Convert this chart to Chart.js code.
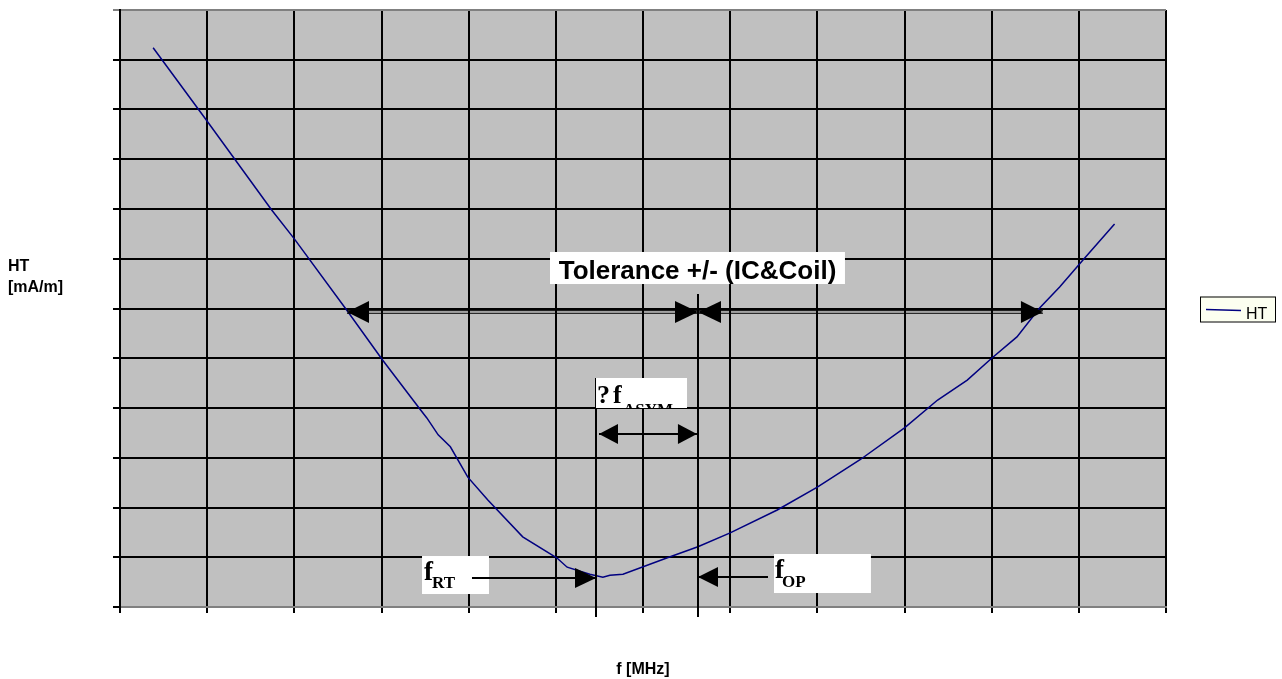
<!DOCTYPE html>
<html lang="en">
<head>
    <meta charset="UTF-8">
    <title>HT vs f</title>
    <script src="https://cdn.jsdelivr.net/npm/chart.js"></script>
    <style>
        body {
            margin: 0;
            padding: 0;
            background: #fff;
        }
        #grafica {
            display: block;
        }
    </style>
</head>
<body>
    <canvas id="grafica" width="1282" height="679"></canvas>
    <script>
        // frequency in grid divisions (no tick labels on the original)
        const freq = [0.38, 0.99, 1.74, 2.0, 2.6, 3.01, 3.44, 3.52, 3.65, 3.79, 3.99, 4.22, 4.62,
                      5.01, 5.13, 5.39, 5.54, 5.62, 5.77, 6.28, 6.63, 7.0, 7.54, 8.0, 8.49,
                      9.0, 9.38, 9.72, 10.0, 10.29, 10.55, 10.78, 11.05, 11.41];
        const ht = [11.24, 9.79, 7.98, 7.4, 5.97, 4.97, 3.98, 3.8, 3.46, 3.22, 2.61, 2.15, 1.41,
                    0.99, 0.8, 0.66, 0.6, 0.64, 0.66, 0.99, 1.21, 1.49, 1.95, 2.41, 2.96,
                    3.6, 4.16, 4.56, 5.0, 5.43, 6.01, 6.43, 6.98, 7.7];
        const serieNombre = 'HT';
        const tituloX = 'f [MHz]';
        const tituloY = ['HT', '[mA/m]'];

        // annotation positions, in axis units
        const notas = {
            tolY: 5.93, tolIzq: 2.604, tolMedio: 6.631, tolDer: 10.588,
            tolCaja: [4.933, 7.136, 8.317, 6.492],
            fRT: 5.461, fOP: 6.631,
            asimY: 3.477, asimIzq: 5.495, asimDer: 6.619,
            asimCaja: [5.461, 4.603, 6.505, 4.0],
            rtY: 0.583, rtDesde: 4.038,
            rtCaja: [3.465, 1.025, 4.233, 0.261],
            opY: 0.603, opHasta: 7.434,
            opCaja: [7.503, 1.065, 8.615, 0.281],
            lineaRTtop: 4.603, lineaOPtop: 6.29
        };

        function punta(ctx, x, y, dir, largo, alto) {
            ctx.fillStyle = '#000';
            ctx.beginPath();
            ctx.moveTo(x, y);
            ctx.lineTo(x - dir * largo, y - alto);
            ctx.lineTo(x - dir * largo, y + alto);
            ctx.closePath();
            ctx.fill();
        }

        function linea(ctx, x1, y1, x2, y2, w) {
            ctx.strokeStyle = '#000';
            ctx.lineWidth = w;
            ctx.beginPath();
            ctx.moveTo(x1, y1);
            ctx.lineTo(x2, y2);
            ctx.stroke();
        }

        function caja(ctx, sx, sy, c) {
            const l = sx.getPixelForValue(c[0]), t = sy.getPixelForValue(c[1]);
            const r = sx.getPixelForValue(c[2]), b = sy.getPixelForValue(c[3]);
            ctx.fillStyle = '#fff';
            ctx.fillRect(l, t, r - l, b - t);
            ctx.fillStyle = '#000';
            return { l, t, r, b };
        }

        const fondoPlugin = {
            id: 'fondo',
            beforeDraw(chart) {
                const { ctx, chartArea: a } = chart;
                ctx.save();
                ctx.fillStyle = '#c0c0c0';
                ctx.fillRect(a.left, a.top, a.right - a.left, a.bottom - a.top);
                ctx.restore();
            }
        };

        const notasPlugin = {
            id: 'notas',
            afterDatasetsDraw(chart) {
                const { ctx, chartArea: a } = chart;
                const sx = chart.scales.x, sy = chart.scales.y;
                const X = v => sx.getPixelForValue(v), Y = v => sy.getPixelForValue(v);
                ctx.save();

                // vertical marker lines
                linea(ctx, X(notas.fRT), Y(notas.lineaRTtop), X(notas.fRT), a.bottom + 10, 2);
                linea(ctx, X(notas.fOP), Y(notas.lineaOPtop), X(notas.fOP), a.bottom + 10, 2);

                // tolerance arrows (double line)
                const ty = Y(notas.tolY);
                linea(ctx, X(notas.tolIzq), ty - 1.3, X(notas.tolDer), ty - 1.3, 1);
                linea(ctx, X(notas.tolIzq), ty + 1.3, X(notas.tolDer), ty + 1.3, 1);
                punta(ctx, X(notas.tolIzq), ty, -1, 22, 11);
                punta(ctx, X(notas.tolMedio), ty, 1, 23, 11);
                punta(ctx, X(notas.tolMedio), ty, -1, 23, 11);
                punta(ctx, X(notas.tolDer), ty, 1, 22, 11);

                // tolerance label
                let b = caja(ctx, sx, sy, notas.tolCaja);
                ctx.font = 'bold 26px "Liberation Sans", Arial, sans-serif';
                ctx.textBaseline = 'alphabetic';
                ctx.textAlign = 'center';
                ctx.fillText('Tolerance +/- (IC&Coil)', (b.l + b.r) / 2, b.b - 5);
                ctx.textAlign = 'left';

                // delta f ASYM
                b = caja(ctx, sx, sy, notas.asimCaja);
                ctx.save();
                ctx.beginPath();
                ctx.rect(b.l, b.t, b.r - b.l, b.b - b.t);
                ctx.clip();
                ctx.font = 'bold 26px "Liberation Serif", "Times New Roman", serif';
                ctx.fillText('?', b.l + 1, b.b - 5);
                ctx.fillText('f', b.l + 17, b.b - 5);
                ctx.font = 'bold 17px "Liberation Serif", "Times New Roman", serif';
                ctx.fillText('ASYM', b.l + 27, b.b + 7);
                ctx.restore();
                const ay = Y(notas.asimY);
                linea(ctx, X(notas.asimIzq), ay, X(notas.asimDer), ay, 2);
                punta(ctx, X(notas.asimIzq), ay, -1, 19, 10);
                punta(ctx, X(notas.asimDer), ay, 1, 19, 10);

                // f RT
                b = caja(ctx, sx, sy, notas.rtCaja);
                ctx.font = 'bold 27px "Liberation Serif", "Times New Roman", serif';
                ctx.fillText('f', b.l + 2, b.t + 24);
                ctx.font = 'bold 17px "Liberation Serif", "Times New Roman", serif';
                ctx.fillText('RT', b.l + 10, b.t + 32);
                const ry = Y(notas.rtY);
                linea(ctx, X(notas.rtDesde), ry, X(notas.fRT), ry, 2);
                punta(ctx, X(notas.fRT), ry, 1, 21, 10);

                // f OP
                b = caja(ctx, sx, sy, notas.opCaja);
                ctx.font = 'bold 27px "Liberation Serif", "Times New Roman", serif';
                ctx.fillText('f', b.l + 1, b.t + 24);
                ctx.font = 'bold 17px "Liberation Serif", "Times New Roman", serif';
                ctx.fillText('OP', b.l + 8, b.t + 33);
                const oy = Y(notas.opY);
                linea(ctx, X(notas.fOP), oy, X(notas.opHasta), oy, 2);
                punta(ctx, X(notas.fOP), oy, -1, 20, 10);

                ctx.restore();
            },
            afterDraw(chart) {
                const { ctx, chartArea: a } = chart;
                const ds = chart.data.datasets[0];
                ctx.save();
                // axis titles, written horizontally like the original
                ctx.fillStyle = '#000';
                ctx.font = 'bold 16px "Liberation Sans", Arial, sans-serif';
                ctx.textAlign = 'left';
                ctx.fillText(tituloY[0], 8, 271);
                ctx.fillText(tituloY[1], 8, 292);
                ctx.textAlign = 'center';
                ctx.fillText(tituloX, (a.left + a.right) / 2, 674);

                // legend box
                const lx = a.right + 34, ly = (a.top + a.bottom) / 2 - 12;
                ctx.fillStyle = '#fcfff0';
                ctx.fillRect(lx, ly, 75, 25);
                ctx.strokeStyle = '#000';
                ctx.lineWidth = 1;
                ctx.strokeRect(lx + 0.5, ly + 0.5, 75, 25);
                ctx.strokeStyle = ds.borderColor;
                ctx.lineWidth = 1.5;
                ctx.beginPath();
                ctx.moveTo(lx + 6, ly + 13);
                ctx.lineTo(lx + 41, ly + 14);
                ctx.stroke();
                ctx.fillStyle = '#000';
                ctx.font = '16px "Liberation Sans", Arial, sans-serif';
                ctx.textAlign = 'left';
                ctx.fillText(ds.label, lx + 46, ly + 22);
                ctx.restore();
            }
        };

        const ctx = document.getElementById('grafica').getContext('2d');
        const grafica = new Chart(ctx, {
            type: 'line',
            data: {
                datasets: [{
                    label: serieNombre,
                    data: freq.map((f, i) => ({ x: f, y: ht[i] })),
                    borderColor: '#000080',
                    borderWidth: 1.5,
                    pointRadius: 0,
                    tension: 0,
                    fill: false
                }]
            },
            options: {
                responsive: false,
                animation: false,
                layout: {
                    padding: { left: 113, right: 116, top: 10, bottom: 66 }
                },
                plugins: {
                    legend: { display: false },
                    tooltip: { enabled: false }
                },
                scales: {
                    x: {
                        type: 'linear',
                        min: 0,
                        max: 12,
                        ticks: { display: false, stepSize: 1 },
                        grid: { color: '#000', lineWidth: 2, tickLength: 6 },
                        border: { color: '#808080', width: 2 }
                    },
                    y: {
                        min: 0,
                        max: 12,
                        ticks: { display: false, stepSize: 1 },
                        grid: {
                            color: c => (c.tick && c.tick.value === 12 ? '#808080' : '#000'),
                            lineWidth: 2,
                            tickLength: 7
                        },
                        border: { color: '#000', width: 2 }
                    }
                }
            },
            plugins: [fondoPlugin, notasPlugin]
        });
    </script>
</body>
</html>
